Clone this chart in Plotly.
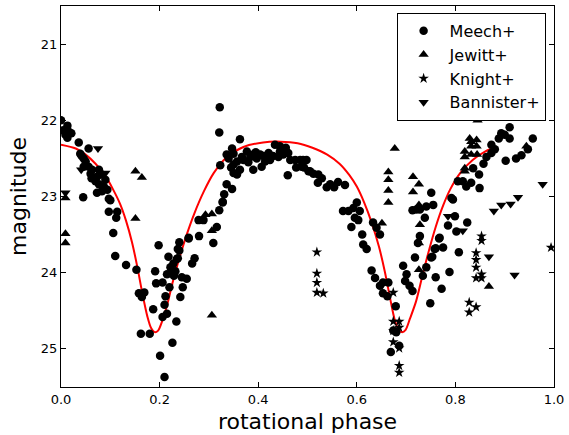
import plotly.graph_objects as go

# ---- data ----
meech_phase = [
    0.000, 0.013, 0.004, 0.016, 0.009, 0.013, 0.021, 0.036, 0.056, 0.039, 0.046, 0.050, 0.046, 0.056,
    0.063, 0.077, 0.062, 0.073, 0.083, 0.090, 0.077, 0.087, 0.073, 0.083, 0.094, 0.045, 0.097, 0.100,
    0.097, 0.114, 0.112, 0.106, 0.042, 0.060, 0.070,
    0.110, 0.132, 0.153, 0.198, 0.191, 0.218, 0.228, 0.215, 0.225, 0.232, 0.237, 0.237, 0.193, 0.206,
    0.220, 0.158, 0.169, 0.164, 0.212, 0.210, 0.187, 0.215, 0.206, 0.234, 0.162, 0.180, 0.226, 0.201,
    0.210, 0.240, 0.240, 0.235, 0.245, 0.255, 0.247, 0.242, 0.259, 0.266, 0.271, 0.280, 0.279, 0.289,
    0.309, 0.316, 0.321, 0.328, 0.222, 0.229,
    0.322, 0.321, 0.363, 0.347, 0.336, 0.350, 0.323, 0.350, 0.357, 0.350, 0.357, 0.363, 0.370, 0.377,
    0.384, 0.390, 0.397, 0.404, 0.390, 0.407, 0.414, 0.421, 0.424, 0.434, 0.441, 0.451, 0.456, 0.461,
    0.460, 0.475, 0.477, 0.491, 0.493, 0.336, 0.347, 0.331, 0.328, 0.259, 0.340, 0.345, 0.367, 0.380,
    0.395, 0.410, 0.430, 0.444, 0.465, 0.485, 0.454, 0.444,
    0.498, 0.505, 0.512, 0.522, 0.521, 0.529, 0.539, 0.546, 0.554, 0.562, 0.576, 0.572, 0.583, 0.593,
    0.600, 0.606, 0.596, 0.603, 0.589, 0.611, 0.633, 0.640, 0.647, 0.488, 0.502, 0.613, 0.620, 0.630,
    0.637, 0.647, 0.653, 0.664, 0.653, 0.662, 0.679, 0.674, 0.686, 0.669, 0.680,
    0.694, 0.701, 0.698, 0.707, 0.713, 0.718, 0.724, 0.728, 0.734, 0.741, 0.751, 0.758, 0.760, 0.767,
    0.775, 0.772, 0.749, 0.785, 0.788, 0.799, 0.807, 0.824, 0.741, 0.755, 0.713, 0.721, 0.728, 0.738,
    0.753, 0.760, 0.751, 0.792, 0.802, 0.768, 0.795, 0.805, 0.815, 0.822, 0.832, 0.836, 0.848, 0.849,
    0.857, 0.863, 0.873, 0.873, 0.880, 0.888, 0.893, 0.910, 0.900, 0.910, 0.902, 0.923, 0.934, 0.947,
    0.957,
]
meech_mag = [
    22.00, 22.07, 22.13, 22.15, 22.19, 22.23, 22.17, 22.29, 22.37, 22.44, 22.50, 22.54, 22.61, 22.61,
    22.65, 22.65, 22.76, 22.74, 22.71, 22.78, 22.84, 22.87, 22.95, 22.93, 22.91, 23.01, 23.03, 23.05,
    23.20, 23.20, 23.28, 23.48, 22.47, 22.70, 22.80,
    23.78, 23.90, 23.96, 23.64, 23.98, 23.79, 23.88, 24.02, 24.00, 23.98, 23.81, 23.69, 24.14, 24.13,
    24.19, 24.27, 24.26, 24.32, 24.31, 24.42, 24.48, 24.54, 24.58, 24.64, 24.80, 24.80, 24.92, 25.09,
    25.37, 23.60, 23.71, 23.82, 24.06, 24.08, 24.19, 24.32, 23.55, 23.88, 23.81, 23.52, 23.31, 23.31,
    23.61, 23.40, 23.18, 23.08, 23.93, 24.04,
    21.83, 22.16, 22.25, 22.37, 22.45, 22.44, 22.59, 22.58, 22.54, 22.69, 22.71, 22.65, 22.52, 22.41,
    22.48, 22.45, 22.50, 22.45, 22.65, 22.61, 22.54, 22.43, 22.52, 22.32, 22.48, 22.45, 22.36, 22.43,
    22.72, 22.52, 22.62, 22.52, 22.62, 22.84, 22.90, 22.97, 23.07, 23.54, 22.50, 22.62, 22.48, 22.55,
    22.42, 22.47, 22.47, 22.41, 22.52, 22.52, 22.43, 22.34,
    22.52, 22.67, 22.70, 22.71, 22.82, 22.76, 22.88, 22.84, 22.88, 22.81, 22.85, 23.19, 23.19, 23.15,
    23.08, 23.19, 23.28, 23.31, 23.40, 23.50, 23.34, 23.41, 23.50, 22.61, 22.67, 23.63, 23.69, 23.97,
    24.07, 24.17, 24.13, 24.13, 24.27, 24.31, 24.44, 24.76, 24.96, 25.04, 24.78,
    23.91, 24.02, 24.11, 24.17, 24.24, 23.80, 23.61, 23.52, 24.04, 23.93, 23.80, 23.69, 24.06, 23.55,
    23.67, 24.21, 24.40, 23.38, 23.99, 23.26, 23.73, 23.34, 23.13, 23.11, 23.18, 23.17, 23.17, 23.28,
    23.79, 23.68, 22.95, 23.02, 23.46, 23.54, 23.04, 22.80, 22.80, 22.87, 22.82, 22.63, 22.71, 22.89,
    22.57, 22.48, 22.43, 22.32, 22.38, 22.24, 22.17, 22.09, 22.19, 22.24, 22.53, 22.50, 22.46, 22.38,
    22.24,
]

jewitt_phase = [
    0.009, 0.009, 0.009, 0.151, 0.164, 0.151, 0.293, 0.306, 0.306, 0.306,
    0.677, 0.664, 0.664, 0.664, 0.664, 0.714, 0.726, 0.714, 0.726, 0.651, 0.728, 0.726, 0.726,
    0.845, 0.829, 0.832, 0.843, 0.832, 0.843, 0.832, 0.844, 0.819, 0.819, 0.819, 0.819, 0.944, 0.868,
]
jewitt_mag = [
    23.02, 23.49, 23.61, 22.67, 22.75, 23.29, 23.24, 23.23, 23.45, 24.56,
    22.37, 22.68, 22.78, 22.92, 23.08, 22.74, 22.84, 22.94, 23.11, 23.35, 23.37, 23.61, 23.96,
    22.00, 22.24, 22.28, 22.26, 22.34, 22.34, 22.45, 22.45, 22.41, 22.48, 22.63, 22.67, 22.34, 24.18,
]

knight_phase = [
    0.519, 0.519, 0.519, 0.519, 0.532, 0.674, 0.674, 0.686, 0.674, 0.686, 0.674, 0.686, 0.686, 0.686,
    0.853, 0.853, 0.842, 0.842, 0.842, 0.842, 0.853, 0.853, 0.828, 0.842, 0.828, 0.994,
]
knight_mag = [
    23.73, 24.01, 24.13, 24.26, 24.27, 24.26, 24.64, 24.64, 24.76, 24.72, 24.91, 24.99, 25.22, 25.31,
    23.52, 23.58, 23.74, 23.83, 23.93, 24.07, 24.02, 24.07, 24.39, 24.45, 24.52, 23.67,
]

bannister_phase = [0.009, 0.075, 0.041, 0.090, 0.977, 0.927, 0.912, 0.893, 0.878, 0.785, 0.815, 0.868, 0.920]
bannister_mag = [22.95, 22.37, 22.65, 22.69, 22.84, 23.01, 23.10, 23.11, 23.19, 23.26, 23.45, 23.79, 24.03]

model_phase = [
    0.000, 0.030, 0.050, 0.070, 0.090, 0.105, 0.120, 0.132, 0.144, 0.155, 0.165, 0.175, 0.183, 0.190,
    0.197, 0.205, 0.215, 0.226, 0.240, 0.255, 0.270, 0.290, 0.310, 0.335, 0.370, 0.410, 0.445, 0.480,
    0.510, 0.540, 0.565, 0.585, 0.600, 0.615, 0.630, 0.645, 0.657, 0.668, 0.677, 0.685, 0.692, 0.699,
    0.708, 0.720, 0.732, 0.745, 0.760, 0.775, 0.790, 0.810, 0.835, 0.860, 0.880,
]
model_mag = [
    22.32, 22.37, 22.45, 22.57, 22.73, 22.90, 23.10, 23.32, 23.60, 23.93, 24.27, 24.57, 24.73, 24.78,
    24.76, 24.64, 24.43, 24.14, 23.81, 23.50, 23.23, 22.93, 22.69, 22.49, 22.35, 22.29, 22.28, 22.30,
    22.36, 22.45, 22.57, 22.72, 22.87, 23.08, 23.34, 23.66, 23.99, 24.35, 24.62, 24.75, 24.78, 24.75,
    24.60, 24.38, 24.07, 23.74, 23.40, 23.12, 22.90, 22.69, 22.52, 22.41, 22.35,
]

FONT = "DejaVu Sans"

fig = go.Figure()
fig.add_trace(go.Scatter(x=model_phase, y=model_mag, mode="lines",
                         line=dict(color="red", width=2, shape="spline", smoothing=0.8),
                         showlegend=False, hoverinfo="skip"))
fig.add_trace(go.Scatter(x=meech_phase, y=meech_mag, mode="markers", name="Meech+",
                         marker=dict(symbol="circle", size=8.5, color="black", line=dict(width=0))))
fig.add_trace(go.Scatter(x=jewitt_phase, y=jewitt_mag, mode="markers", name="Jewitt+",
                         marker=dict(symbol="triangle-up", size=9, color="black", line=dict(width=0))))
fig.add_trace(go.Scatter(x=knight_phase, y=knight_mag, mode="markers", name="Knight+",
                         marker=dict(symbol="star", size=8, color="black", line=dict(width=0))))
fig.add_trace(go.Scatter(x=bannister_phase, y=bannister_mag, mode="markers", name="Bannister+",
                         marker=dict(symbol="triangle-down", size=9, color="black", line=dict(width=0))))

axis_common = dict(showline=True, linecolor="black", linewidth=1, mirror="ticks",
                   ticks="inside", ticklen=5, tickwidth=1, tickcolor="black",
                   showgrid=False, zeroline=False,
                   tickfont=dict(family=FONT, size=13, color="black"))

fig.update_layout(
    width=569, height=435,
    margin=dict(l=61, r=14, t=5, b=47),
    paper_bgcolor="white", plot_bgcolor="white",
    font=dict(family=FONT, color="black"),
    xaxis=dict(range=[0, 1], tickvals=[0, 0.2, 0.4, 0.6, 0.8, 1.0],
               ticktext=["0.0", "0.2", "0.4", "0.6", "0.8", "1.0"],
               title=dict(text="rotational phase", font=dict(family=FONT, size=22), standoff=8),
               **axis_common),
    yaxis=dict(range=[25.5, 20.5], tickvals=[21, 22, 23, 24, 25],
               title=dict(text="magnitude", font=dict(family=FONT, size=22), standoff=8),
               **axis_common),
    legend=dict(x=0.983, y=0.982, xanchor="right", yanchor="top",
                bgcolor="white", bordercolor="black", borderwidth=1, itemwidth=42,
                font=dict(family=FONT, size=16, color="black")),
)

fig.write_html("out.html")
